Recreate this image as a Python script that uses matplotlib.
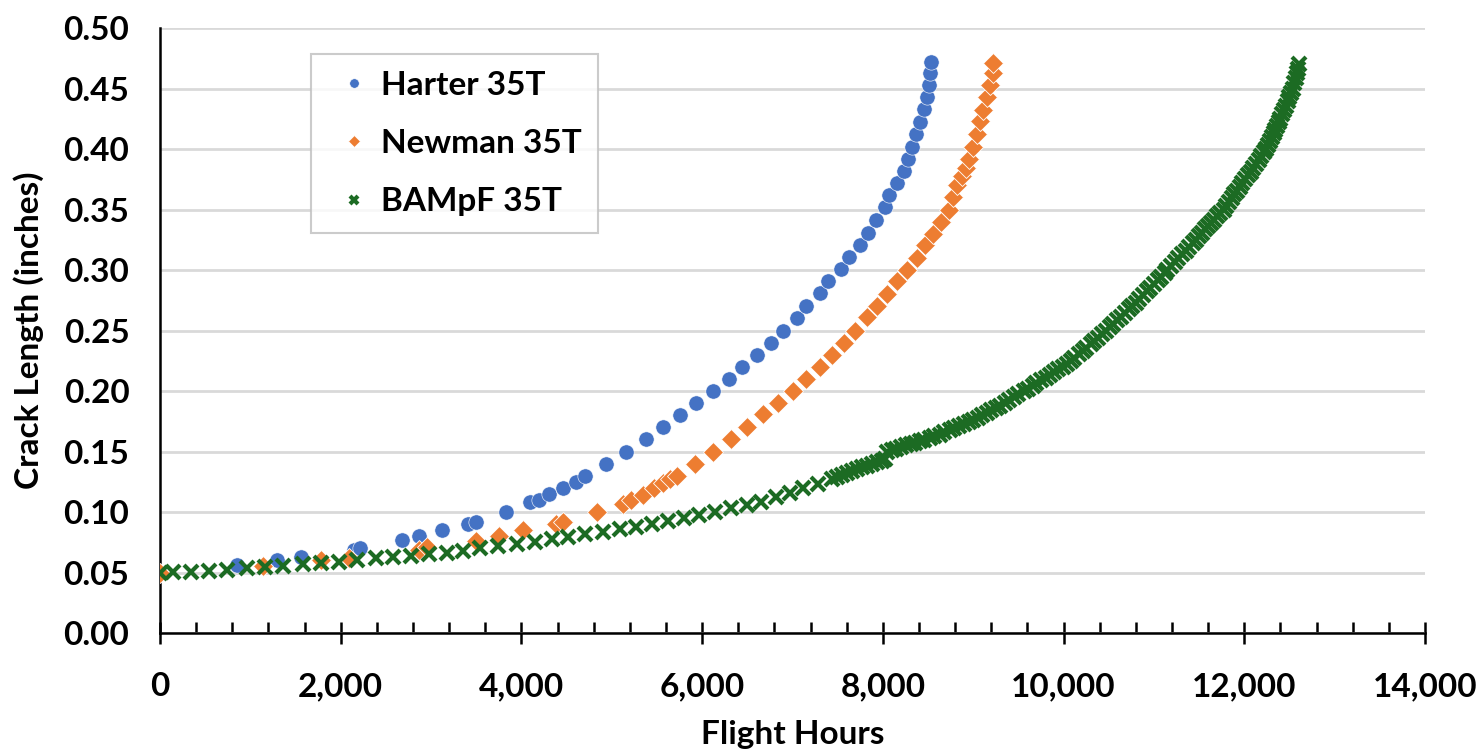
import matplotlib
matplotlib.use("Agg")
import matplotlib.pyplot as plt
from matplotlib.ticker import MultipleLocator, FuncFormatter

plt.rcParams['font.family'] = ['Lato', 'DejaVu Sans']
plt.rcParams['font.weight'] = 'bold'

# Harter 35T
harter_hours = [850, 1290, 1560, 2150, 2210, 2680, 2870, 3120, 3410, 3500, 3830,
                4100, 4190, 4310, 4460, 4600, 4700, 4935, 5155, 5375, 5563, 5755,
                5932, 6120, 6295, 6441, 6611, 6758, 6898, 7053, 7149, 7304, 7397,
                7533, 7629, 7747, 7830, 7924, 8020, 8071, 8153, 8234, 8282, 8319,
                8366, 8411, 8455, 8492, 8510, 8521, 8532]
harter_crack = [0.056, 0.060, 0.063, 0.069, 0.070, 0.077, 0.080, 0.085, 0.090,
                0.092, 0.100, 0.108, 0.110, 0.115, 0.120, 0.125, 0.130, 0.140, 0.150,
                0.160, 0.170, 0.180, 0.190, 0.200, 0.210, 0.220, 0.230, 0.240, 0.250,
                0.260, 0.270, 0.281, 0.291, 0.301, 0.311, 0.321, 0.331, 0.341, 0.352,
                0.362, 0.372, 0.382, 0.392, 0.402, 0.412, 0.422, 0.433, 0.443, 0.453,
                0.463, 0.472]

# Newman 35T
newman_hours = [0, 1136, 1778, 2095, 2870, 2951, 3497, 3755, 4021, 4382, 4457, 4833,
                5128, 5209, 5349, 5467, 5570, 5644, 5718, 5921, 6124, 6316, 6492,
                6669, 6838, 7005, 7153, 7304, 7433, 7570, 7692, 7828, 7939, 8049,
                8160, 8270, 8374, 8471, 8558, 8640, 8734, 8780, 8817, 8872, 8920,
                8957, 8994, 9038, 9075, 9112, 9149, 9186, 9216, 9223]
newman_crack = [0.050, 0.055, 0.060, 0.062, 0.069, 0.071, 0.076, 0.080, 0.085, 0.090,
                0.092, 0.100, 0.107, 0.110, 0.114, 0.120, 0.124, 0.127, 0.130, 0.140,
                0.150, 0.160, 0.170, 0.181, 0.190, 0.200, 0.210, 0.220, 0.230, 0.240,
                0.250, 0.261, 0.270, 0.280, 0.291, 0.300, 0.310, 0.321, 0.330, 0.340,
                0.350, 0.360, 0.370, 0.378, 0.384, 0.392, 0.402, 0.412, 0.423, 0.432,
                0.443, 0.453, 0.463, 0.471]

# BAMpF 35T - coarse part
bampf_hours = [0, 148, 339, 546, 745, 959, 1162, 1365, 1579, 1778, 1985, 2184, 2387,
               2583, 2774, 2981, 3173, 3357, 3541, 3744, 3947, 4145, 4335, 4519, 4703,
               4906, 5091, 5268, 5441, 5625, 5798, 5968, 6142, 6316, 6492, 6647, 6817,
               6972, 7120, 7286, 7433]
bampf_crack = [0.0500, 0.0507, 0.0507, 0.0515, 0.0520, 0.0534, 0.0548, 0.0554, 0.0568,
               0.0581, 0.0589, 0.0603, 0.0617, 0.0626, 0.0639, 0.0653, 0.0664, 0.0680,
               0.0700, 0.0719, 0.0738, 0.0755, 0.0778, 0.0796, 0.0818, 0.0837, 0.0857,
               0.0879, 0.0900, 0.0926, 0.0948, 0.0975, 0.1003, 0.1030, 0.1058, 0.1085,
               0.1120, 0.1154, 0.1196, 0.1231, 0.1270]

# BAMpF 35T - dense part (before the step near 8,000 h)
bampf_hours_b = [7490, 7545, 7600, 7655, 7710, 7765, 7820, 7875, 7930, 7985, 8020]
bampf_crack_b = [0.1290, 0.1310, 0.1325, 0.1340, 0.1355, 0.1370, 0.1383, 0.1397,
                 0.1410, 0.1423, 0.1435]

# BAMpF 35T - dense part (after the step)
bampf_hours_c = [8050, 8100, 8150, 8200, 8260, 8310, 8360, 8410, 8460, 8520, 8570, 8630,
                 8680, 8740, 8790, 8840, 8900, 8950, 9000, 9050, 9100, 9150, 9200, 9250,
                 9300, 9350, 9400, 9450, 9500, 9560, 9610, 9660, 9700, 9750, 9800, 9850,
                 9890, 9940, 9990, 10034, 10080, 10120, 10170, 10210, 10250, 10300,
                 10340, 10380, 10430, 10470, 10510, 10550, 10590, 10630, 10680, 10720,
                 10760, 10800, 10840, 10880, 10920, 10960, 11000, 11040, 11080, 11120,
                 11150, 11190, 11230, 11270, 11310, 11350, 11390, 11430, 11460, 11495,
                 11530, 11565, 11600, 11630, 11665, 11700, 11735, 11770, 11800, 11830,
                 11860, 11890, 11920, 11950, 11980, 12010, 12040, 12070, 12100, 12130,
                 12160, 12190, 12220, 12245, 12265, 12285, 12305, 12325, 12345, 12365,
                 12385, 12400, 12420, 12440, 12460, 12480, 12500, 12520, 12540, 12555,
                 12570, 12580, 12590, 12600]
bampf_crack_c = [0.1500, 0.1510, 0.1520, 0.1535, 0.1550, 0.1560, 0.1570, 0.1585, 0.1595,
                 0.1610, 0.1625, 0.1640, 0.1660, 0.1680, 0.1695, 0.1710, 0.1730, 0.1745,
                 0.1760, 0.1780, 0.1800, 0.1820, 0.1840, 0.1860, 0.1880, 0.1900, 0.1925,
                 0.1950, 0.1975, 0.2000, 0.2020, 0.2045, 0.2065, 0.2090, 0.2110, 0.2135,
                 0.2155, 0.2180, 0.2200, 0.2220, 0.2248, 0.2272, 0.2303, 0.2328, 0.2355,
                 0.2388, 0.2415, 0.2442, 0.2473, 0.2500, 0.2528, 0.2556, 0.2584, 0.2612,
                 0.2647, 0.2675, 0.2703, 0.2730, 0.2761, 0.2792, 0.2823, 0.2854, 0.2884,
                 0.2915, 0.2946, 0.2977, 0.3000, 0.3032, 0.3065, 0.3097, 0.3129, 0.3161,
                 0.3194, 0.3226, 0.3250, 0.3278, 0.3306, 0.3335, 0.3363, 0.3387, 0.3415,
                 0.3444, 0.3472, 0.3500, 0.3531, 0.3562, 0.3594, 0.3625, 0.3656, 0.3688,
                 0.3719, 0.3750, 0.3782, 0.3814, 0.3846, 0.3878, 0.3910, 0.3941, 0.3973,
                 0.4000, 0.4032, 0.4065, 0.4097, 0.4129, 0.4161, 0.4194, 0.4226, 0.4250,
                 0.4286, 0.4321, 0.4357, 0.4393, 0.4429, 0.4464, 0.4500, 0.4543, 0.4590,
                 0.4625, 0.4660, 0.4700]

blue = '#4472C4'
orange = '#ED7D31'
green = '#1C6B23'

fig = plt.figure(figsize=(14.83, 7.51), dpi=100)
ax = fig.add_axes([0.1079, 0.1571, 0.853, 0.8056])

# Excel draws the series in order, so BAMpF sits on top
ax.plot(harter_hours, harter_crack, linestyle='none', marker='o', markersize=11,
        color=blue, markeredgecolor='white', markeredgewidth=0.4,
        label='Harter 35T', zorder=3)
ax.plot(newman_hours, newman_crack, linestyle='none', marker='D', markersize=10.5,
        color=orange, markeredgecolor='white', markeredgewidth=0.6,
        label='Newman 35T', zorder=4)
ax.plot(bampf_hours + bampf_hours_b + bampf_hours_c,
        bampf_crack + bampf_crack_b + bampf_crack_c,
        linestyle='none', marker='x', markersize=9.5, markeredgewidth=3,
        color=green, label='BAMpF 35T', zorder=5)

ax.set_xlim(0, 14000)
ax.set_ylim(0, 0.50)
ax.xaxis.set_major_locator(MultipleLocator(2000))
ax.xaxis.set_minor_locator(MultipleLocator(400))
ax.yaxis.set_major_locator(MultipleLocator(0.05))
ax.xaxis.set_major_formatter(FuncFormatter(lambda v, p: f'{v:,.0f}'))
ax.yaxis.set_major_formatter(FuncFormatter(lambda v, p: f'{v:.2f}'))

ax.grid(axis='y', color='#d9d9d9', linewidth=2)
ax.set_axisbelow(True)
for s in ['top', 'right']:
    ax.spines[s].set_visible(False)
ax.spines['left'].set_linewidth(1.8)
ax.spines['bottom'].set_linewidth(1.8)

ax.tick_params(axis='x', which='major', direction='inout', length=16, width=1.8,
               labelsize=24, pad=20)
ax.tick_params(axis='x', which='minor', direction='in', length=8, width=1.8)
ax.tick_params(axis='y', which='major', length=0, labelsize=24, pad=22)

ax.set_xlabel('Flight Hours', fontsize=24, fontweight='bold', labelpad=14)
ax.set_ylabel('Crack Length (inches)', fontsize=24, fontweight='bold', labelpad=14)

leg = ax.legend(loc='upper left', bbox_to_anchor=(0.119, 0.957),
                fontsize=24, markerscale=0.62, frameon=True, fancybox=False,
                edgecolor='#bfbfbf', borderpad=0.5, labelspacing=0.88,
                handlelength=1.6, handletextpad=0.0, borderaxespad=0)
leg.get_frame().set_linewidth(1.5)

fig.savefig('out.png', dpi=100)
